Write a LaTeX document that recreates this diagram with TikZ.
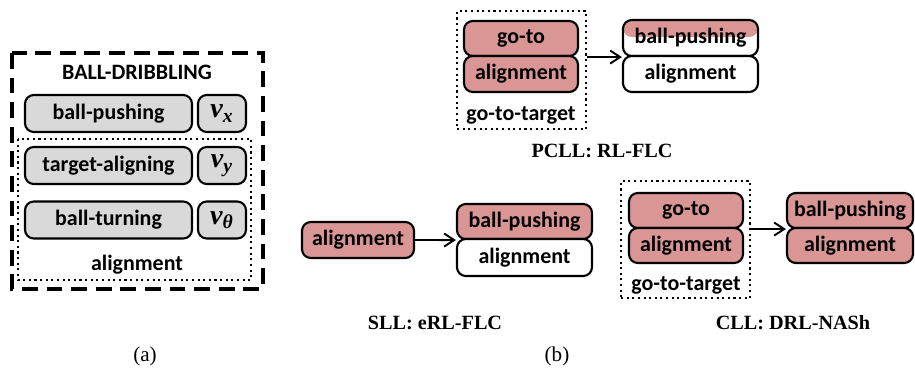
\documentclass[tikz,border=0pt]{standalone}
\usepackage{fontspec}
\setmainfont{Liberation Serif}
\newfontfamily\boxfont{Carlito}
\usepackage{tikz}
\usetikzlibrary{arrows.meta,positioning,fit,calc}
\definecolor{skill}{HTML}{D99694}
\definecolor{base}{HTML}{D9D9D9}
\tikzset{
  blk/.style={draw, rectangle, rounded corners=5pt, line width=1.2pt, align=center,
    inner sep=0pt, font=\boxfont\bfseries\fontsize{12.5}{14}\selectfont},
  sk/.style={blk, fill=skill},
  gr/.style={blk, fill=base},
  wt/.style={blk, fill=white},
  vel/.style={blk, fill=base, minimum width=48*0.2mm, minimum height=37*0.2mm,
    font=\bfseries\itshape\fontsize{16}{17}\selectfont},
  grp/.style={draw, dotted, line width=1.2pt, inner sep=0pt},
  txt/.style={font=\boxfont\bfseries\fontsize{12.5}{14}\selectfont},
  ttl/.style={font=\bfseries\fontsize{11.5}{13}\selectfont},
  arr/.style={-{Straight Barb[length=2mm, width=2.6mm]}, line width=1.1pt},
}
\begin{document}
\begin{tikzpicture}[x=0.2mm, y=-0.2mm]
\useasboundingbox (0,0) rectangle (915,373);
% (a) ball-dribbling
\node[txt] (drib) at (137,72) {BALL-DRIBBLING};
\foreach \n/\y/\t/\v in {bp/113.5/ball-pushing/x, ta/165.5/target-aligning/y, bt/220/ball-turning/θ} {
  \node[gr, minimum width=167*0.2mm, minimum height=37*0.2mm] (\n) at (108.5,\y) {\t};
  \node[vel] (v\n) at (222,\y) {v\textsubscript{\v}};
}
\coordinate (dnw) at (12,53);
\coordinate (dse) at (263,289);
\draw[dashed, dash pattern=on 9pt off 5pt, line width=2pt] (dnw) rectangle (dse);
\node[txt] (alg) at (137,265) {alignment};
\coordinate (anw) at (18,139);
\coordinate (ase) at (251,280);
\draw[dotted, line width=1.2pt] (anw) rectangle (ase);
% (b) PCLL
\node[sk, minimum width=114*0.2mm, minimum height=35*0.2mm] (go1) at (521,38.5) {go-to};
\node[sk, minimum width=114*0.2mm, minimum height=36*0.2mm] (al1) at (521,74) {alignment};
\node[txt] (gt1) at (521,115) {go-to-target};
\coordinate (g1nw) at (457,11);
\coordinate (g1se) at (586,129);
\node[grp, fit=(g1nw)(g1se)] (grp1) {};
\node[wt, minimum width=135*0.2mm, minimum height=36*0.2mm,
  path picture={\fill[skill] (path picture bounding box.north west) rectangle
    ([yshift=-17*0.2mm]path picture bounding box.north east);}] (bp1) at (690.5,38) {ball-pushing};
\node[wt, minimum width=135*0.2mm, minimum height=36*0.2mm] (ab1) at (690.5,74) {alignment};
\draw[arr] (grp1.east |- bp1.south west) -- (bp1.south west);
\node[ttl] (t1) at (602,151) {PCLL: RL-FLC};
% (b) SLL
\node[sk, minimum width=112*0.2mm, minimum height=36*0.2mm] (al2) at (358,240) {alignment};
\node[sk, minimum width=135*0.2mm, minimum height=35*0.2mm] (bp2) at (524.5,221.5) {ball-pushing};
\node[wt, minimum width=135*0.2mm, minimum height=37*0.2mm] (ab2) at (524.5,257.5) {alignment};
\draw[arr] (al2.east) -- (bp2.south west);
\node[ttl] (t2) at (435,323) {SLL: eRL-FLC};
% (b) CLL
\node[sk, minimum width=114*0.2mm, minimum height=35*0.2mm] (go3) at (686,210.5) {go-to};
\node[sk, minimum width=114*0.2mm, minimum height=35*0.2mm] (al3) at (686,245.5) {alignment};
\node[txt] (gt3) at (686,285) {go-to-target};
\coordinate (g3nw) at (621,181);
\coordinate (g3se) at (750,298);
\node[grp, fit=(g3nw)(g3se)] (grp3) {};
\node[sk, minimum width=126*0.2mm, minimum height=35*0.2mm] (bp3) at (850,210.5) {ball-pushing};
\node[sk, minimum width=126*0.2mm, minimum height=35*0.2mm] (ab3) at (850,245.5) {alignment};
\draw[arr] (grp3.east |- bp3.south west) -- (bp3.south west);
\node[ttl] (t3) at (793,323) {CLL: DRL-NASh};
% captions
\node[font=\fontsize{12}{14}\selectfont] (capa) at (145,356) {(a)};
\node[font=\fontsize{12}{14}\selectfont] (capb) at (557,356) {(b)};
\end{tikzpicture}
\end{document}
